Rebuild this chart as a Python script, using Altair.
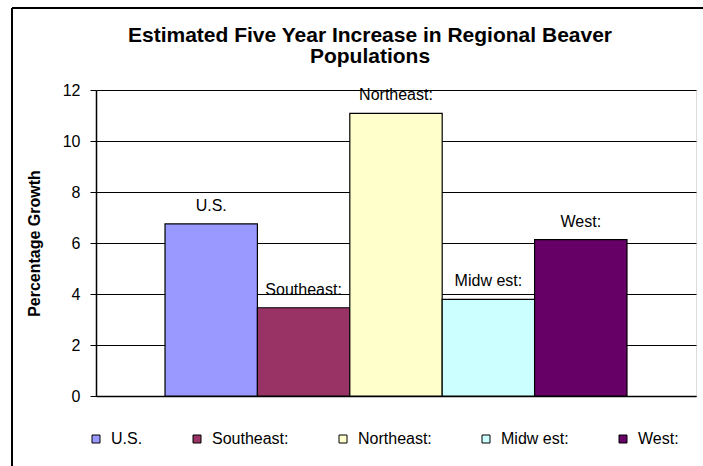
import altair as alt
import pandas as pd

series = ["U.S.", "Southeast:", "Northeast:", "Midw est:", "West:"]
values = [6.75, 3.46, 11.08, 3.79, 6.13]
colors = ["#9999FF", "#993366", "#FFFFCC", "#CCFFFF", "#660066"]
y_ticks = [0, 2, 4, 6, 8, 10, 12]

df = pd.DataFrame({"series": series, "value": values})

FONT = "Liberation Sans"

x_enc = alt.X("series:N", sort=series,
              scale=alt.Scale(paddingInner=0, paddingOuter=0.747),
              axis=alt.Axis(labels=False, ticks=False, title=None,
                            domainColor="black", domainWidth=1.5, grid=False))
y_enc = alt.Y("value:Q",
              scale=alt.Scale(domain=[0, 12], nice=False),
              axis=alt.Axis(values=y_ticks, title="Percentage Growth",
                            titleFont=FONT, titleFontSize=16, titleFontWeight="bold",
                            titleColor="black", titleX=-54, titleBaseline="bottom",
                            labelFont=FONT, labelFontSize=16, labelColor="black",
                            labelPadding=10, tickSize=6, tickColor="black",
                            domainColor="black", domainWidth=1.5,
                            gridColor="black", gridWidth=1))

bars = alt.Chart(df).mark_bar(stroke="black", strokeWidth=1.2).encode(
    x=x_enc,
    y=y_enc,
    fill=alt.Fill("series:N", sort=series,
                  scale=alt.Scale(domain=series, range=colors),
                  legend=alt.Legend(orient="none", legendX=-8, legendY=341,
                                    direction="horizontal", title=None,
                                    columnPadding=46, labelOffset=7,
                                    symbolType="square", symbolSize=64,
                                    symbolStrokeColor="black", symbolStrokeWidth=1,
                                    symbolOpacity=1,
                                    labelFont=FONT, labelFontSize=16,
                                    labelColor="black")),
)

labels = alt.Chart(df).mark_text(font=FONT, fontSize=16, color="black",
                                 baseline="alphabetic", dy=-13).encode(
    x=alt.X("series:N", sort=series),
    y=alt.Y("value:Q"),
    text="series:N",
)

frame_top = alt.Chart(df).mark_rule(color="black", strokeWidth=1.5, clip=False).encode(
    x=alt.value(-84), x2=alt.value(800), y=alt.value(-82))
frame_left = alt.Chart(df).mark_rule(color="black", strokeWidth=1.5, clip=False).encode(
    x=alt.value(-84), y=alt.value(-82), y2=alt.value(500))

chart = alt.layer(bars, labels, frame_top, frame_left).properties(
    width=600,
    height=306,
    autosize=alt.AutoSizeParams(type="none"),
    padding={"left": 96, "top": 90, "right": 7, "bottom": 70},
    title=alt.TitleParams(
        text=["Estimated Five Year Increase in Regional Beaver", "Populations"],
        font=FONT, fontSize=21, fontWeight="bold", color="black",
        anchor="middle", frame="group", dx=-26, offset=-60, lineHeight=21,
    ),
).configure_view(
    fill="#C0C0C0", stroke="#808080", strokeWidth=1.5
).configure(background="white")

chart.save("out.html", embed_options={"renderer": "svg", "actions": False})
